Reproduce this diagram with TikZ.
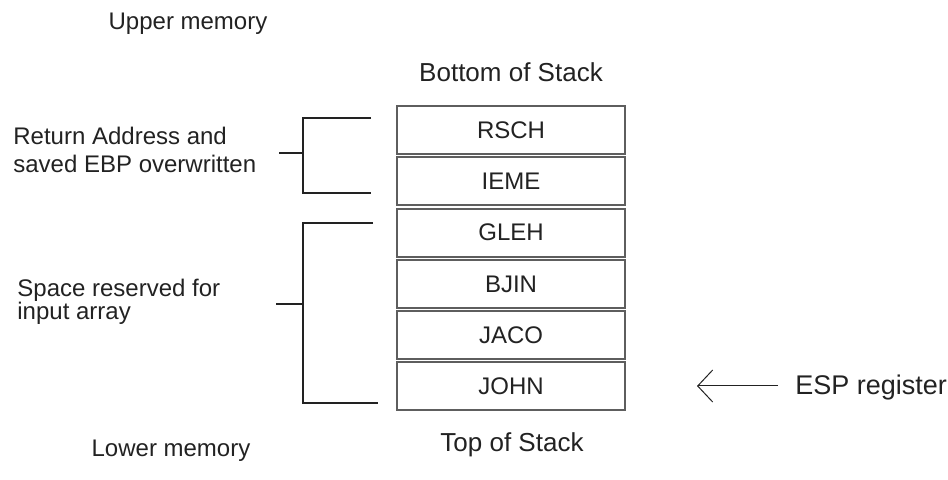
\documentclass[tikz,border=0pt]{standalone}
\usepackage{fontspec}
\setmainfont{Liberation Sans}
\usetikzlibrary{arrows.meta}

\definecolor{inkgray}{HTML}{222222}
\definecolor{boxgray}{HTML}{5E5E5E}

\tikzset{
    cell/.style={draw=boxgray, line width=1pt, fill=white, minimum width=114pt,
                 minimum height=24pt, inner sep=0pt, text=inkgray,
                 font=\fontsize{12}{14}\selectfont},
    brk/.style={line width=0.8pt, color=inkgray},
    lbl/.style={inner sep=0pt, text=inkgray, font=\fontsize{12}{14}\selectfont}
}

\begin{document}
\begin{tikzpicture}[x=0.5pt, y=-0.5pt]

    % frame
    \useasboundingbox (0,0) rectangle (948,480);

    % constants
    \def\xcell{511}
    \def\ytop{130}
    \def\pitch{51.3}

    % memory labels
    \node [lbl, anchor=base] (upper) at (188,30) {Upper memory};
    \node [lbl, anchor=base] (lower) at (171,457) {Lower memory};

    % stack cells
    \foreach \word [count=\i] in {RSCH,IEME,GLEH,BJIN,JACO,JOHN}
        \node [cell] (c\i) at (\xcell,{\ytop+\pitch*(\i-1)}) {\word};

    \node [lbl, anchor=base, font=\fontsize{13}{15}\selectfont] (bos) at (511,82) {Bottom of Stack};
    \node [lbl, anchor=base, font=\fontsize{13}{15}\selectfont] (tos) at (512,452) {Top of Stack};

    % return address bracket
    \coordinate (r1) at (371,118);
    \coordinate (r2) at (371,193);
    \draw[brk] (r1) -- (303,118) -- (303,193) -- (r2);
    \draw[brk] (279,153) -- (303,153);
    \node [lbl, anchor=base west, align=left, font=\fontsize{12}{14}\selectfont] (ret) at (13,173)
        {Return Address and\\saved EBP overwritten};

    % input array bracket
    \coordinate (s1) at (373,223);
    \coordinate (s2) at (378,403);
    \draw[brk] (s1) -- (303,223) -- (303,403) -- (s2);
    \draw[brk] (276,304) -- (303,304);
    \node [lbl, anchor=base west, align=left, font=\fontsize{12}{11.5}\selectfont] (arr) at (17,320)
        {Space reserved for\\input array};

    % esp pointer
    \node [lbl, anchor=base west, font=\fontsize{13.5}{15}\selectfont] (esp) at (795,395) {ESP register};
    \coordinate (tip) at (697,386);
    \draw[-{Straight Barb[length=7.5pt, width=16pt]}, line width=0.5pt, color=inkgray]
        (778,386) -- (tip);

\end{tikzpicture}
\end{document}
